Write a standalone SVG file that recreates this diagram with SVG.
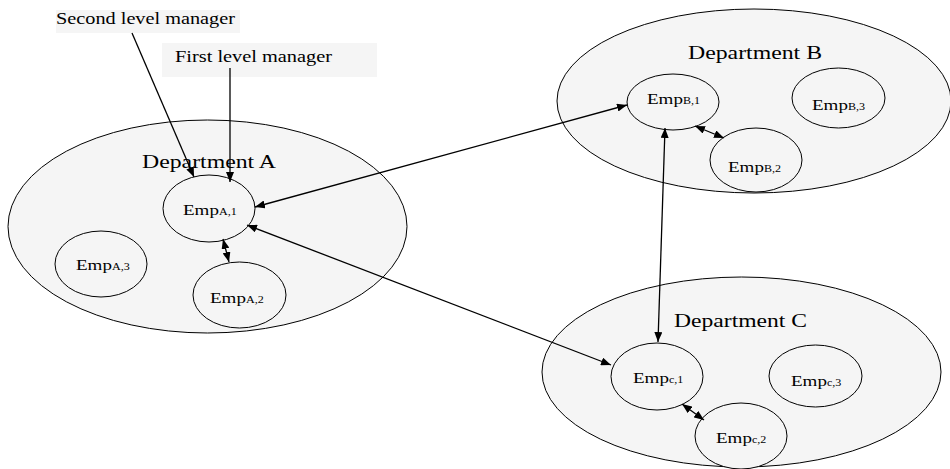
<svg xmlns="http://www.w3.org/2000/svg" width="950" height="469" viewBox="0 0 950 469">
<defs>
<marker id="ah" viewBox="0 0 10 8" refX="10" refY="4" markerWidth="10" markerHeight="8" markerUnits="userSpaceOnUse" orient="auto-start-reverse">
<path d="M0,0 L10,4 L0,8 z" fill="#000"/>
</marker>
<style>
.dept{fill:#f5f5f5;stroke:#000;stroke-width:1}
.emp{fill:#f5f5f5;stroke:#000;stroke-width:1}
.lbl{fill:#f5f5f5;stroke:none}
.t16{font-size:16px}
.t18{font-size:18.5px}
.t15{font-size:15px}
.sub{font-size:9.5px}
.c1{fill:none;stroke:#000;stroke-width:1.3;marker-end:url(#ah)}
.c2{fill:none;stroke:#000;stroke-width:1.3;marker-start:url(#ah);marker-end:url(#ah)}
</style>
</defs>
<rect width="950" height="469" fill="#fff"/>
<g font-family="Times New Roman, Liberation Serif, DejaVu Serif, serif" fill="#000">
<g id="label-second">
<rect class="lbl" x="56" y="10" width="184" height="23"/>
<text class="t16" x="56" y="24" textLength="179" lengthAdjust="spacingAndGlyphs">Second level manager</text>
</g>
<g id="label-first">
<rect class="lbl" x="162" y="43" width="215" height="34"/>
<text class="t16" x="175" y="62" textLength="157" lengthAdjust="spacingAndGlyphs">First level manager</text>
</g>
<g id="deptA">
<ellipse class="dept" cx="207.5" cy="226.5" rx="199.5" ry="106.5"/>
<text class="t18" x="142" y="168" textLength="134" lengthAdjust="spacingAndGlyphs">Department A</text>
</g>
<g id="deptB">
<ellipse class="dept" cx="754" cy="101" rx="197" ry="92"/>
<text class="t18" x="688" y="59" textLength="134" lengthAdjust="spacingAndGlyphs">Department B</text>
</g>
<g id="deptC">
<ellipse class="dept" cx="741.5" cy="372" rx="199.5" ry="95"/>
<text class="t18" x="674" y="327" textLength="133" lengthAdjust="spacingAndGlyphs">Department C</text>
</g>
<g id="empA1">
<ellipse class="emp" cx="209" cy="208.5" rx="46" ry="33.5"/>
<text class="t15" transform="translate(183,215) scale(1.27,1)">Emp<tspan class="sub">A,1</tspan></text>
</g>
<g id="empA2">
<ellipse class="emp" cx="239.5" cy="295" rx="46.5" ry="33"/>
<text class="t15" transform="translate(210,303) scale(1.27,1)">Emp<tspan class="sub">A,2</tspan></text>
</g>
<g id="empA3">
<ellipse class="emp" cx="101" cy="264" rx="46" ry="33"/>
<text class="t15" transform="translate(76,270) scale(1.27,1)">Emp<tspan class="sub">A,3</tspan></text>
</g>
<g id="empB1">
<ellipse class="emp" cx="673" cy="102" rx="46" ry="28"/>
<text class="t15" transform="translate(647,104) scale(1.27,1)">Emp<tspan class="sub">B,1</tspan></text>
</g>
<g id="empB2">
<ellipse class="emp" cx="756" cy="160" rx="46" ry="32"/>
<text class="t15" transform="translate(728,172) scale(1.27,1)">Emp<tspan class="sub">B,2</tspan></text>
</g>
<g id="empB3">
<ellipse class="emp" cx="838.5" cy="98" rx="46.5" ry="30"/>
<text class="t15" transform="translate(812,110) scale(1.27,1)">Emp<tspan class="sub">B,3</tspan></text>
</g>
<g id="empC1">
<ellipse class="emp" cx="657" cy="376.5" rx="46" ry="33.5"/>
<text class="t15" transform="translate(633,383) scale(1.27,1)">Emp<tspan class="sub">c,1</tspan></text>
</g>
<g id="empC2">
<ellipse class="emp" cx="741" cy="436" rx="46" ry="33"/>
<text class="t15" transform="translate(716,443) scale(1.27,1)">Emp<tspan class="sub">c,2</tspan></text>
</g>
<g id="empC3">
<ellipse class="emp" cx="815.5" cy="376" rx="46.5" ry="31"/>
<text class="t15" transform="translate(791,386) scale(1.27,1)">Emp<tspan class="sub">c,3</tspan></text>
</g>
</g>
<g id="connectors">
<line class="c1" x1="132" y1="33" x2="194" y2="177"/>
<line class="c1" x1="230" y1="68" x2="230" y2="182"/>
<line class="c2" x1="255" y1="207" x2="627" y2="105"/>
<line class="c2" x1="247" y1="225" x2="611" y2="365"/>
<line class="c2" x1="665" y1="128" x2="658" y2="342"/>
<line class="c2" x1="223" y1="239" x2="229" y2="262"/>
<line class="c2" x1="695" y1="126" x2="724" y2="138"/>
<line class="c2" x1="682" y1="404" x2="704" y2="420"/>
</g>
</svg>
